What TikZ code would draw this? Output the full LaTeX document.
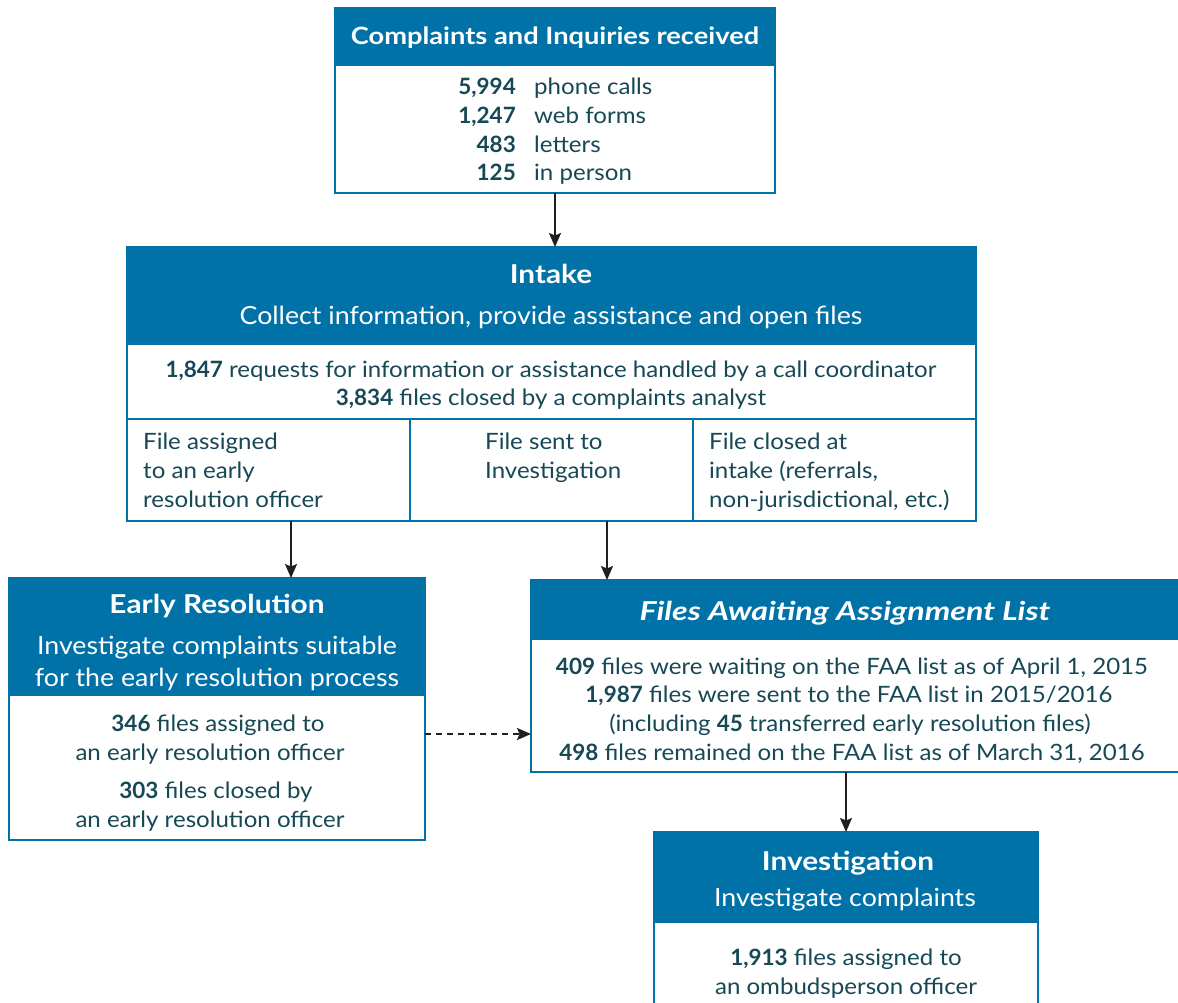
\documentclass[tikz,border=0pt]{standalone}
\usepackage{fontspec}
\setmainfont{Lato}[FakeStretch=1.07, BoldFeatures={FakeStretch=1.0}]
\newfontfamily\hfont{Lato}[FakeStretch=1.07, BoldFeatures={FakeStretch=1.145}, BoldItalicFeatures={FakeStretch=1.24}]
\usetikzlibrary{arrows.meta}
\definecolor{hdr}{RGB}{0,114,167}
\definecolor{txt}{RGB}{22,72,86}
\definecolor{arr}{RGB}{35,31,32}
\tikzset{
  boxframe/.style={draw=hdr, line width=1.6pt, inner sep=0pt, outer sep=0pt, anchor=north west, rectangle},
  hdrfill/.style={fill=hdr, draw=none, inner sep=0pt, outer sep=0pt, anchor=north west, rectangle},
  ttl/.style={text=white, anchor=base, inner sep=0pt, font=\hfont\fontsize{26}{29}\selectfont\bfseries},
  sub/.style={text=white, anchor=base, inner sep=0pt, font=\fontsize{25}{29}\selectfont},
  bod/.style={text=txt, anchor=base, inner sep=0pt, font=\fontsize{22.5}{29}\selectfont},
  bodl/.style={bod, anchor=base west},
  bodr/.style={bod, anchor=base east},
  conn/.style={draw=arr, line width=1.6pt, -{Stealth[length=14pt,width=12pt,inset=2.5pt]}},
  dconn/.style={conn, dash pattern=on 6pt off 5pt},
  divl/.style={draw=hdr, line width=1.6pt}
}
\begin{document}
\begin{tikzpicture}[x=1pt,y=-1pt]
\useasboundingbox (0,0) rectangle (1178,1003);
\clip (0,0) rectangle (1178,1003);
\fill[white] (0,0) rectangle (1178,1003);

% ---------- top box
\node[hdrfill, minimum width=440pt, minimum height=58pt] (toph) at (335,8) {};
\node[boxframe, minimum width=440pt, minimum height=185pt] (top) at (335,8) {};
\node[ttl, font=\hfont\fontsize{23.8}{29}\selectfont\bfseries] (topt) at (555,45) {Complaints and Inquiries received};
\node[bodr] (n1) at (516,95) {\textbf{5,994}};
\node[bodl] (l1) at (534,95) {phone calls};
\node[bodr] (n2) at (516,124) {\textbf{1,247}};
\node[bodl] (l2) at (534,124) {web forms};
\node[bodr] (n3) at (516,153) {\textbf{483}};
\node[bodl] (l3) at (534,153) {letters};
\node[bodr] (n4) at (516,181) {\textbf{125}};
\node[bodl] (l4) at (534,181) {in person};

% ---------- intake
\node[hdrfill, minimum width=849pt, minimum height=98pt] (intakeh) at (127,247) {};
\node[boxframe, minimum width=849pt, minimum height=274pt] (intake) at (127,247) {};
\coordinate (row) at (0,419);
\coordinate (cd1) at (410,0);
\coordinate (cd2) at (693,0);
\draw[divl] (intake.west |- row) -- (intake.east |- row);
\draw[divl] (cd1 |- row) -- (cd1 |- intake.south);
\draw[divl] (cd2 |- row) -- (cd2 |- intake.south);
\node[ttl] (it) at (551,283) {Intake};
\node[sub] (is) at (551,324) {Collect information, provide assistance and open files};
\node[bod] (ib1) at (551,377) {\textbf{1,847} requests for information or assistance handled by a call coordinator};
\node[bod] (ib2) at (551,405) {\textbf{3,834} files closed by a complaints analyst};
\node[bodl] (c1a) at (143,449) {File assigned};
\node[bodl] (c1b) at (143,478) {to an early};
\node[bodl] (c1c) at (143,507) {resolution officer};
\node[bodl] (c2a) at (485,449) {File sent to};
\node[bodl] (c2b) at (485,478) {Investigation};
\node[bodl] (c3a) at (709,449) {File closed at};
\node[bodl] (c3b) at (709,478) {intake (referrals,};
\node[bodl] (c3c) at (709,507) {non-jurisdictional, etc.)};

% ---------- early resolution
\node[hdrfill, minimum width=416pt, minimum height=118pt] (erh) at (9,578) {};
\node[boxframe, minimum width=416pt, minimum height=262pt] (er) at (9,578) {};
\node[ttl] (ert) at (217,613) {Early Resolution};
\node[sub] (ers1) at (217,654) {Investigate complaints suitable};
\node[sub] (ers2) at (217,686) {for the early resolution process};
\node[bod] (erb1) at (218,731) {\textbf{346} files assigned to};
\node[bod] (erb2) at (210,760) {an early resolution officer};
\node[bod] (erb3) at (216,798) {\textbf{303} files closed by};
\node[bod] (erb4) at (210,827) {an early resolution officer};

% ---------- FAA list
\node[hdrfill, minimum width=660pt, minimum height=60pt] (faah) at (531,580) {};
\node[boxframe, minimum width=660pt, minimum height=192pt] (faa) at (531,580) {};
\node[ttl, font=\hfont\fontsize{26}{29}\selectfont\bfseries\itshape] (faat) at (845,620) {Files Awaiting Assignment List};
\node[bod] (fb1) at (852,674) {\textbf{409} files were waiting on the FAA list as of April 1, 2015};
\node[bod] (fb2) at (849,702) {\textbf{1,987} files were sent to the FAA list in 2015/2016};
\node[bod] (fb3) at (850,731) {(including \textbf{45} transferred early resolution files)};
\node[bod] (fb4) at (852,760) {\textbf{498} files remained on the FAA list as of March 31, 2016};

% ---------- investigation
\node[hdrfill, minimum width=384pt, minimum height=91pt] (invh) at (654,832) {};
\node[boxframe, minimum width=384pt, minimum height=190pt] (inv) at (654,832) {};
\node[ttl] (invt) at (848,870) {Investigation};
\node[sub] (invs) at (845,906) {Investigate complaints};
\node[bod] (invb1) at (846,965) {\textbf{1,913} files assigned to};
\node[bod] (invb2) at (846,994) {an ombudsperson officer};

% ---------- connectors
\coordinate (a0) at (555,0);
\coordinate (a1) at (291,0);
\coordinate (a2) at (607,0);
\coordinate (a3) at (846,0);
\coordinate (dy) at (0,734);
\draw[conn] (top.south -| a0) -- (intake.north -| a0);
\draw[conn] (intake.south -| a1) -- (er.north -| a1);
\draw[conn] (intake.south -| a2) -- (faa.north -| a2);
\draw[conn] (faa.south -| a3) -- (inv.north -| a3);
\draw[dconn] (er.east |- dy) -- (faa.west |- dy);
\end{tikzpicture}
\end{document}
